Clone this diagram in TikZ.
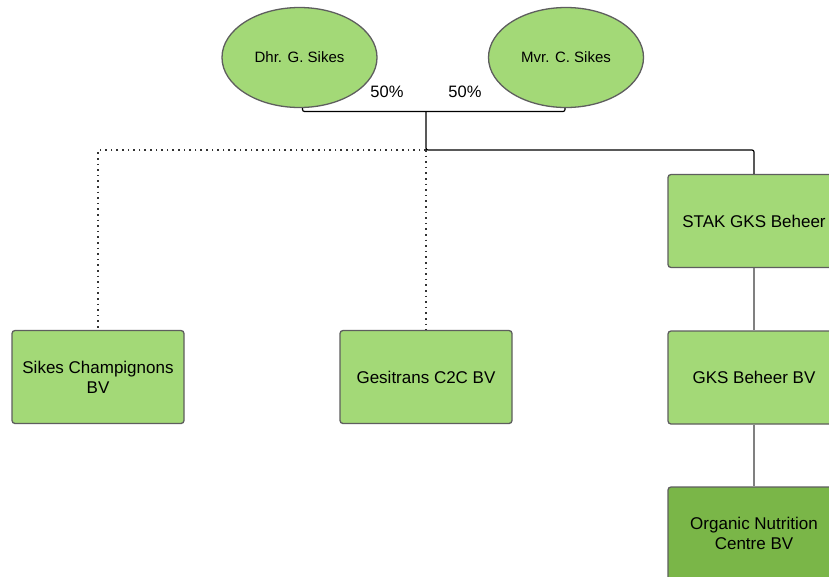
\documentclass[tikz,border=0pt]{standalone}
\usepackage{fontspec}
\setmainfont{Liberation Sans}
\usetikzlibrary{shapes.geometric}
\definecolor{lgreen}{HTML}{A3D977}
\definecolor{dgreen}{HTML}{7AB648}
\definecolor{edgegray}{HTML}{5E5E5E}
\tikzset{
  person/.style={ellipse, draw=edgegray, line width=1.3pt, fill=lgreen, minimum width=155pt, minimum height=100pt, inner sep=0pt, font=\fontsize{15}{18}\selectfont},
  company/.style={rectangle, rounded corners=3pt, draw=edgegray, line width=1.3pt, fill=lgreen, minimum width=172pt, minimum height=93pt, inner sep=2pt, align=center, font=\fontsize{17}{20}\selectfont},
  link/.style={draw=black, line width=1.2pt, rounded corners=2pt},
  dotlink/.style={draw=black!80, line width=1.3pt, dash pattern=on 1.6pt off 4pt},
  sublink/.style={draw=gray, line width=1.2pt},
  pct/.style={font=\fontsize{16.5}{19}\selectfont, inner sep=0pt}
}
\begin{document}
\begin{tikzpicture}[x=1pt,y=-1pt]
\clip (0,0) rectangle (829,576);
\fill[white] (0,0) rectangle (829,576);
% connectors first
\coordinate (j) at (426,111.5);
\coordinate (j2) at (426,150);
\node[person] (g) at (299.5,57.5) {Dhr. G. Sikes};
\node[person] (c) at (566,57.5) {Mvr. C. Sikes};
\node[company] (sc) at (98,377) {Sikes Champignons\\BV};
\node[company] (gc) at (426,377) {Gesitrans C2C BV};
\node[company] (stak) at (754,221) {STAK GKS Beheer};
\node[company] (gks) at (754,377.5) {GKS Beheer BV};
\node[company, fill=dgreen] (onc) at (754,533.5) {Organic Nutrition\\Centre BV};
\begin{scope}[on background layer/.try]
\end{scope}
\draw[link] ([xshift=3pt]g.south) |- (j) -| ([xshift=-1pt]c.south);
\draw[link] (j) -- (j2) -| (stak.north);
\draw[dotlink] (j2) -| (sc.north);
\draw[dotlink] (j2) -- (gc.north);
\draw[sublink] (stak.south) -- (gks.north);
\draw[sublink] (gks.south) -- (onc.north);
\node[pct] (p1) at (387,92) {50\%};
\node[pct] (p2) at (465,92) {50\%};
\end{tikzpicture}
\end{document}
